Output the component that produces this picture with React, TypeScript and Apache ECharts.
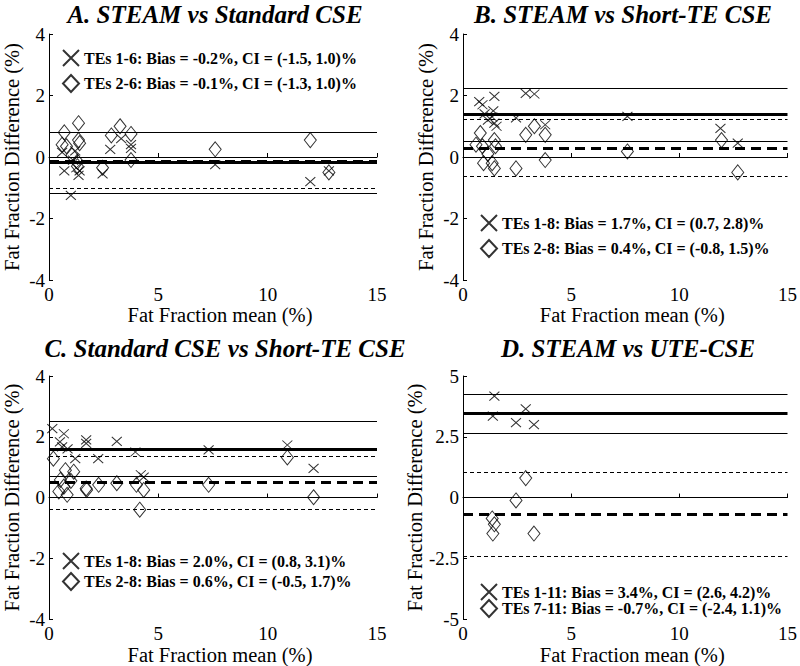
import React, { useEffect, useRef } from "react";
import * as echarts from "echarts";

// ---- Data ----
const titles = [
  "A. STEAM vs Standard CSE",
  "B. STEAM vs Short-TE CSE",
  "C. Standard CSE vs Short-TE CSE",
  "D. STEAM vs UTE-CSE",
];

const legendX = [
  "TEs 1-6: Bias = -0.2%, CI = (-1.5, 1.0)%",
  "TEs 1-8: Bias = 1.7%, CI = (0.7, 2.8)%",
  "TEs 1-8: Bias = 2.0%, CI = (0.8, 3.1)%",
  "TEs 1-11: Bias = 3.4%, CI = (2.6, 4.2)%",
];
const legendD = [
  "TEs 2-6: Bias = -0.1%, CI = (-1.3, 1.0)%",
  "TEs 2-8: Bias = 0.4%, CI = (-0.8, 1.5)%",
  "TEs 2-8: Bias = 0.6%, CI = (-0.5, 1.7)%",
  "TEs 7-11: Bias = -0.7%, CI = (-2.4, 1.1)%",
];

// [mean, difference]
const aCross = [
  [0.6, 0.15], [0.7, -0.45], [1.0, -1.25], [1.1, -0.1], [1.2, 0.2], [1.25, -0.35],
  [1.35, -0.6], [1.4, -0.45], [2.45, -0.55], [2.8, 0.25], [3.3, 0.6], [3.75, 0.4],
  [3.75, 0.28], [7.6, -0.25], [11.95, -0.8], [12.8, -0.45],
];
const aDiamond = [
  [0.6, 0.4], [0.7, 0.8], [0.8, 0.35], [1.05, 0.05], [1.3, -0.15], [1.35, 1.1],
  [1.35, 0.55], [1.4, 0.45], [1.3, -0.3], [2.45, -0.35], [2.85, 0.7], [3.25, 1.0],
  [3.75, 0.75], [3.75, -0.1], [7.6, 0.25], [11.95, 0.55], [12.8, -0.5],
];
const bCross = [
  [0.75, 1.8], [0.9, 1.7], [1.0, 1.4], [1.15, 1.2], [1.45, 1.97], [1.4, 1.5],
  [1.45, 1.1], [1.55, 1.0], [1.35, 1.3], [2.45, 1.27], [2.9, 2.07], [3.3, 2.05],
  [3.8, 1.05], [7.6, 1.32], [11.9, 0.93], [12.7, 0.45],
];
const bDiamond = [
  [0.6, 0.4], [0.8, 0.78], [0.9, 0.35], [0.95, -0.2], [1.15, 0.1], [1.35, -0.2],
  [1.45, -0.37], [1.45, 0.55], [1.5, 0.35], [2.45, -0.37], [2.9, 0.72], [3.3, 1.0],
  [3.8, 0.72], [3.8, -0.1], [7.6, 0.18], [11.95, 0.55], [12.7, -0.5],
];
const cCross = [
  [0.15, 2.27], [0.5, 1.83], [0.68, 2.1], [0.6, 1.67], [0.85, 1.6], [1.2, 1.28],
  [1.7, 1.9], [1.7, 1.78], [2.25, 1.28], [3.1, 1.85], [3.95, 1.5], [4.2, 0.75],
  [4.33, 0.67], [7.3, 1.57], [10.9, 1.73], [12.1, 0.96],
];
const cDiamond = [
  [0.2, 1.28], [0.45, 0.2], [0.52, 0.58], [0.68, 0.36], [0.75, 0.9], [0.83, 0.09],
  [1.0, 0.55], [1.13, 0.85], [1.7, 0.3], [1.72, 0.25], [2.27, 0.42], [3.1, 0.47],
  [4.0, 0.42], [4.33, 0.25], [4.15, -0.4], [7.3, 0.42], [10.9, 1.32], [12.1, 0.01],
];
const dCross = [
  [1.45, 4.17], [1.38, 3.35], [2.45, 3.08], [2.9, 3.65], [3.28, 3.0],
];
const dDiamond = [
  [1.35, -0.86], [1.45, -1.1], [1.38, -1.48], [2.45, -0.12], [2.9, 0.8], [3.28, -1.48],
];

// drawn lines: [bias, lower, upper]
const crossLines = [
  [-0.17, -1.17, 0.81],
  [1.39, 0.52, 2.23],
  [1.59, 0.69, 2.5],
  [3.45, 2.63, 4.24],
];
const diamondLines = [
  [-0.13, -1.03, 0.81],
  [0.3, -0.64, 1.23],
  [0.49, -0.38, 1.37],
  [-0.67, -2.43, 1.03],
];

const xTicks = { min: 0, max: 15, interval: 5 };
const yRanges = [
  { min: -4, max: 4, interval: 2 },
  { min: -4, max: 4, interval: 2 },
  { min: -4, max: 4, interval: 2 },
  { min: -5, max: 5, interval: 2.5 },
];

const crossData = [aCross, bCross, cCross, dCross];
const diamondData = [aDiamond, bDiamond, cDiamond, dDiamond];

// ---- Layout ----
const FONT = '"Liberation Serif", "Times New Roman", serif';
const NAME_FS = 20.5;
const TICK_FS = 19;
const grids = [
  { left: 48.5, top: 34, width: 328.5, height: 246 },
  { left: 463, top: 34, width: 329, height: 246 },
  { left: 48.5, top: 376, width: 328.5, height: 245 },
  { left: 463, top: 376, width: 329, height: 245 },
];
const titlePos = [
  [215, 14],
  [623, 14],
  [225, 348],
  [628, 348],
];
const legendPos = [
  { left: 62, top: 49, itemGap: 7 },
  { left: 480, top: 214, itemGap: 7 },
  { left: 62, top: 552, itemGap: 2 },
  { left: 480, top: 583, itemGap: -2 },
];

const CROSS = "path://M0,0L10,10M0,10L10,0";

export default function App() {
  const ref = useRef<HTMLDivElement>(null);
  useEffect(() => {
    if (!ref.current) return;
    const chart = echarts.init(ref.current, undefined, { renderer: "svg" });

    const xAxis = grids.map((_, i) => ({
      type: "value",
      gridIndex: i,
      ...xTicks,
      axisLine: { show: true, lineStyle: { color: "#000", width: 1 } },
      axisTick: { show: true, inside: true, length: 4, lineStyle: { color: "#000" } },
      splitLine: { show: false },
      axisLabel: { color: "#000", fontSize: TICK_FS, fontFamily: FONT, margin: 5 },
      name: "Fat Fraction mean (%)",
      nameLocation: "middle",
      nameGap: 23,
      nameTextStyle: { color: "#000", fontSize: NAME_FS, fontFamily: FONT, padding: [0, 0, 0, 14] },
    }));
    const yAxis = grids.map((_, i) => ({
      type: "value",
      gridIndex: i,
      ...yRanges[i],
      axisLine: { show: true, lineStyle: { color: "#000", width: 1 } },
      axisTick: { show: true, inside: true, length: 4, lineStyle: { color: "#000" } },
      splitLine: { show: false },
      axisLabel: { color: "#000", fontSize: TICK_FS, fontFamily: FONT, margin: 4 },
      name: "Fat Fraction Difference (%)",
      nameLocation: "middle",
      nameGap: 27,
      nameTextStyle: { color: "#000", fontSize: NAME_FS, fontFamily: FONT },
    }));

    const mkLines = (vals: number[], dashed: boolean) => ({
      silent: true,
      symbol: ["none", "none"],
      label: { show: false },
      animation: false,
      data: [
        { yAxis: vals[0], lineStyle: { color: "#000", width: 2.8, type: dashed ? [10, 6] : "solid" } },
        { yAxis: vals[1], lineStyle: { color: "#000", width: 1, type: dashed ? [4, 3] : "solid" } },
        { yAxis: vals[2], lineStyle: { color: "#000", width: 1, type: dashed ? [4, 3] : "solid" } },
      ],
    });

    const series: any[] = [];
    for (let i = 0; i < 4; i++) {
      series.push({
        type: "scatter",
        name: legendX[i],
        xAxisIndex: i,
        yAxisIndex: i,
        data: crossData[i],
        symbol: CROSS,
        symbolSize: [10, 9],
        itemStyle: { color: "transparent", borderColor: "#000", borderWidth: 1 },
        markLine: mkLines(crossLines[i], false),
      });
      series.push({
        type: "scatter",
        name: legendD[i],
        xAxisIndex: i,
        yAxisIndex: i,
        data: diamondData[i],
        symbol: "diamond",
        symbolSize: [12, 15],
        itemStyle: { color: "transparent", borderColor: "#000", borderWidth: 1 },
        markLine: mkLines(diamondLines[i], true),
      });
    }

    const legend = legendPos.map((p, i) => ({
      orient: "vertical",
      left: p.left,
      top: p.top,
      itemGap: p.itemGap,
      itemWidth: 16,
      itemHeight: 17,
      padding: 0,
      selectedMode: false,
      textStyle: { color: "#000", fontSize: 16, fontWeight: "bold", fontFamily: FONT },
      itemStyle: { color: "transparent", borderColor: "#000", borderWidth: 2 },
      data: [
        { name: legendX[i], icon: CROSS, itemStyle: { color: "transparent", borderColor: "#000", borderWidth: 2 } },
        { name: legendD[i], icon: "diamond", itemStyle: { color: "transparent", borderColor: "#000", borderWidth: 2 } },
      ],
    }));

    const graphic = titles.map((t, i) => ({
      type: "text",
      x: titlePos[i][0],
      y: titlePos[i][1],
      style: {
        text: t,
        fill: "#000",
        font: `italic bold 25px ${FONT}`,
        align: "center",
        verticalAlign: "middle",
      },
    }));

    chart.setOption({
      animation: false,
      backgroundColor: "#fff",
      textStyle: { fontFamily: FONT },
      grid: grids,
      xAxis,
      yAxis,
      series,
      legend,
      graphic,
    });
    return () => chart.dispose();
  }, []);

  return (
    <div
      ref={ref}
      style={{ position: "fixed", left: 0, top: 0, width: 800, height: 666, background: "#fff" }}
    />
  );
}
